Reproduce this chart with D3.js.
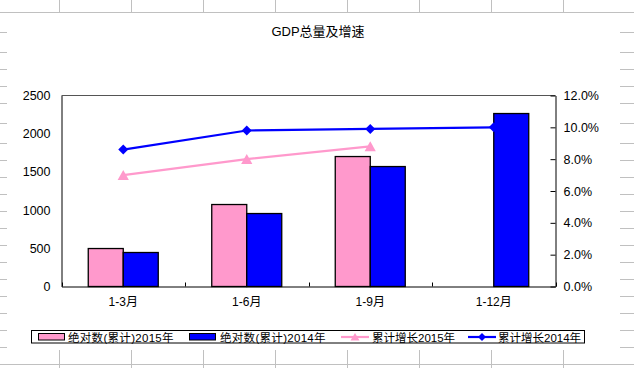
<!DOCTYPE html>
<html><head><meta charset="utf-8">
<script src="https://cdn.jsdelivr.net/npm/d3@7"></script>
<style>
html,body{margin:0;padding:0;background:#fff;}
svg{display:block;}
text{font-family:"Liberation Sans","Noto Sans CJK SC",sans-serif;fill:#000;}
</style></head>
<body>
<svg id="chart" width="634" height="368"></svg>
<script>
// ---- data ----
const categories = ["1-3月", "1-6月", "1-9月", "1-12月"];
const abs2015 = [497, 1073, 1701, null];
const abs2014 = [445, 955, 1570, 2264];
const growth2015 = [7.0, 8.0, 8.8, null];
const growth2014 = [8.6, 9.8, 9.9, 10.0];
const leftTicks = [0, 500, 1000, 1500, 2000, 2500];
const rightTicks = [0, 2, 4, 6, 8, 10, 12];
const seriesNames = ["绝对数(累计)2015年", "绝对数(累计)2014年", "累计增长2015年", "累计增长2014年"];
const titleText = "GDP总量及增速";

// ---- layout ----
const W = 634, H = 368;
const plot = {left: 61.5, right: 555.5, top: 95.5, bottom: 286.5};
const PINK = "#FF99CC", BLUE = "#0000FF", GRID = "#c0c0c0";

const svg = d3.select("#chart");
svg.append("rect").attr("width", W).attr("height", H).attr("fill", "#fff");

// spreadsheet background grid
const rowLines = [12, 32, 52, 69, 86, 103, 123, 143];
for (let y = 160; y <= 364; y += 17) rowLines.push(y);
const colLines = d3.range(8).map(k => 59.5 + 72 * k);
const bg = svg.append("g");
bg.selectAll("line.r").data(rowLines).join("line")
  .attr("x1", 0).attr("x2", W).attr("y1", d => d + 0.5).attr("y2", d => d + 0.5)
  .attr("stroke", GRID).attr("stroke-width", 1);
bg.selectAll("line.c").data(colLines).join("line")
  .attr("x1", d => d).attr("x2", d => d).attr("y1", 0).attr("y2", H)
  .attr("stroke", GRID).attr("stroke-width", 1);
// chart area
svg.append("rect").attr("x", 7).attr("y", 13).attr("width", 613).attr("height", 337).attr("fill", "#fff");

// title
svg.append("text").attr("x", 318).attr("y", 36).attr("text-anchor", "middle")
  .style("font-size", "13px").text(titleText);

// scales
const x = d3.scaleBand().domain(categories).range([plot.left, plot.right]).padding(0);
const bw = x.bandwidth();
const groupPad = 0.2166;
const xs = d3.scaleBand().domain([0, 1]).range([bw * groupPad, bw * (1 - groupPad)]).padding(0);
const yL = d3.scaleLinear().domain([0, 2500]).range([plot.bottom, plot.top]);
const yR = d3.scaleLinear().domain([0, 12]).range([plot.bottom, plot.top]);

// plot area top border
svg.append("line").attr("x1", plot.left).attr("x2", plot.right).attr("y1", plot.top).attr("y2", plot.top)
  .attr("stroke", "#555").attr("stroke-width", 1);

// bars
const barData = [];
categories.forEach((c, i) => {
  [abs2015[i], abs2014[i]].forEach((v, s) => { if (v != null) barData.push({c, s, v}); });
});
svg.append("g").selectAll("rect").data(barData).join("rect")
  .attr("x", d => x(d.c) + xs(d.s))
  .attr("y", d => yL(d.v))
  .attr("width", xs.bandwidth())
  .attr("height", d => yL(0) - yL(d.v))
  .attr("fill", d => d.s === 0 ? PINK : BLUE)
  .attr("stroke", "#000").attr("stroke-width", 1.3);

// axes
const gL = svg.append("g").attr("transform", `translate(${plot.left},0)`)
  .call(d3.axisLeft(yL).tickValues(leftTicks).tickSize(0).tickPadding(11).tickFormat(d3.format("d")));
gL.selectAll("text").style("font-size", "12.5px");
gL.select(".domain").attr("stroke", "#000");

const gR = svg.append("g").attr("transform", `translate(${plot.right},0)`)
  .call(d3.axisRight(yR).tickValues(rightTicks).tickSizeInner(-5).tickSizeOuter(0).tickPadding(8)
    .tickFormat(d => d3.format(".1f")(d) + "%"));
gR.selectAll("text").style("font-size", "12.5px").attr("x", 8);
gR.select(".domain").attr("stroke", "#000");
gR.selectAll(".tick line").attr("stroke", "#000");

const gB = svg.append("g").attr("transform", `translate(0,${plot.bottom})`)
  .call(d3.axisBottom(x).tickSize(0).tickPadding(10));
gB.selectAll("text").style("font-size", "12px").attr("dy", "0.8em");
gB.select(".domain").attr("stroke", "#000");
// category boundary ticks (inside)
const bounds = categories.map(c => x(c)).concat([plot.right]);
svg.append("g").selectAll("line").data(bounds).join("line")
  .attr("x1", d => Math.round(d) + 0.5).attr("x2", d => Math.round(d) + 0.5)
  .attr("y1", plot.bottom).attr("y2", plot.bottom - 4)
  .attr("stroke", "#000");

// lines
const cx = c => x(c) + bw / 2;
const diamond = "M0,-5L5,0L0,5L-5,0Z";
const triangle = "M0,-5.2L5.6,4.8L-5.6,4.8Z";
function drawLine(vals, color, marker) {
  const pts = categories.map((c, i) => ({c, v: vals[i]})).filter(d => d.v != null);
  svg.append("path").datum(pts)
    .attr("d", d3.line().x(d => cx(d.c)).y(d => yR(d.v)))
    .attr("fill", "none").attr("stroke", color).attr("stroke-width", 2.2);
  svg.append("g").selectAll("path").data(pts).join("path")
    .attr("d", marker)
    .attr("transform", d => `translate(${cx(d.c)},${yR(d.v)})`)
    .attr("fill", color);
}
drawLine(growth2015, PINK, triangle);
drawLine(growth2014, BLUE, diamond);

// legend
const lg = svg.append("g");
lg.append("rect").attr("x", 31.5).attr("y", 330.5).attr("width", 553).attr("height", 12.5)
  .attr("fill", "#fff").attr("stroke", "#000").attr("stroke-width", 1);
const legendItems = [
  {name: seriesNames[0], type: "bar", color: PINK, x0: 38, tx: 68},
  {name: seriesNames[1], type: "bar", color: BLUE, x0: 189, tx: 220},
  {name: seriesNames[2], type: "line", color: PINK, x0: 341, tx: 372, marker: "M0,-4L4.5,3.5L-4.5,3.5Z"},
  {name: seriesNames[3], type: "line", color: BLUE, x0: 468, tx: 498, marker: "M0,-4L4,0L0,4L-4,0Z"}
];
legendItems.forEach(it => {
  if (it.type === "bar") {
    lg.append("rect").attr("x", it.x0 + 0.5).attr("y", 333.5).attr("width", 26).attr("height", 6.5)
      .attr("fill", it.color).attr("stroke", "#000").attr("stroke-width", 1);
  } else {
    lg.append("line").attr("x1", it.x0).attr("x2", it.x0 + 28).attr("y1", 337).attr("y2", 337)
      .attr("stroke", it.color).attr("stroke-width", 2.2);
    lg.append("path").attr("d", it.marker).attr("transform", `translate(${it.x0 + 14},337)`).attr("fill", it.color);
  }
  lg.append("text").attr("x", it.tx).attr("y", 341.5).style("font-size", "11.5px")
    .style("letter-spacing", it.type === "bar" ? "0.3px" : "0px").text(it.name);
});
</script>
</body></html>
